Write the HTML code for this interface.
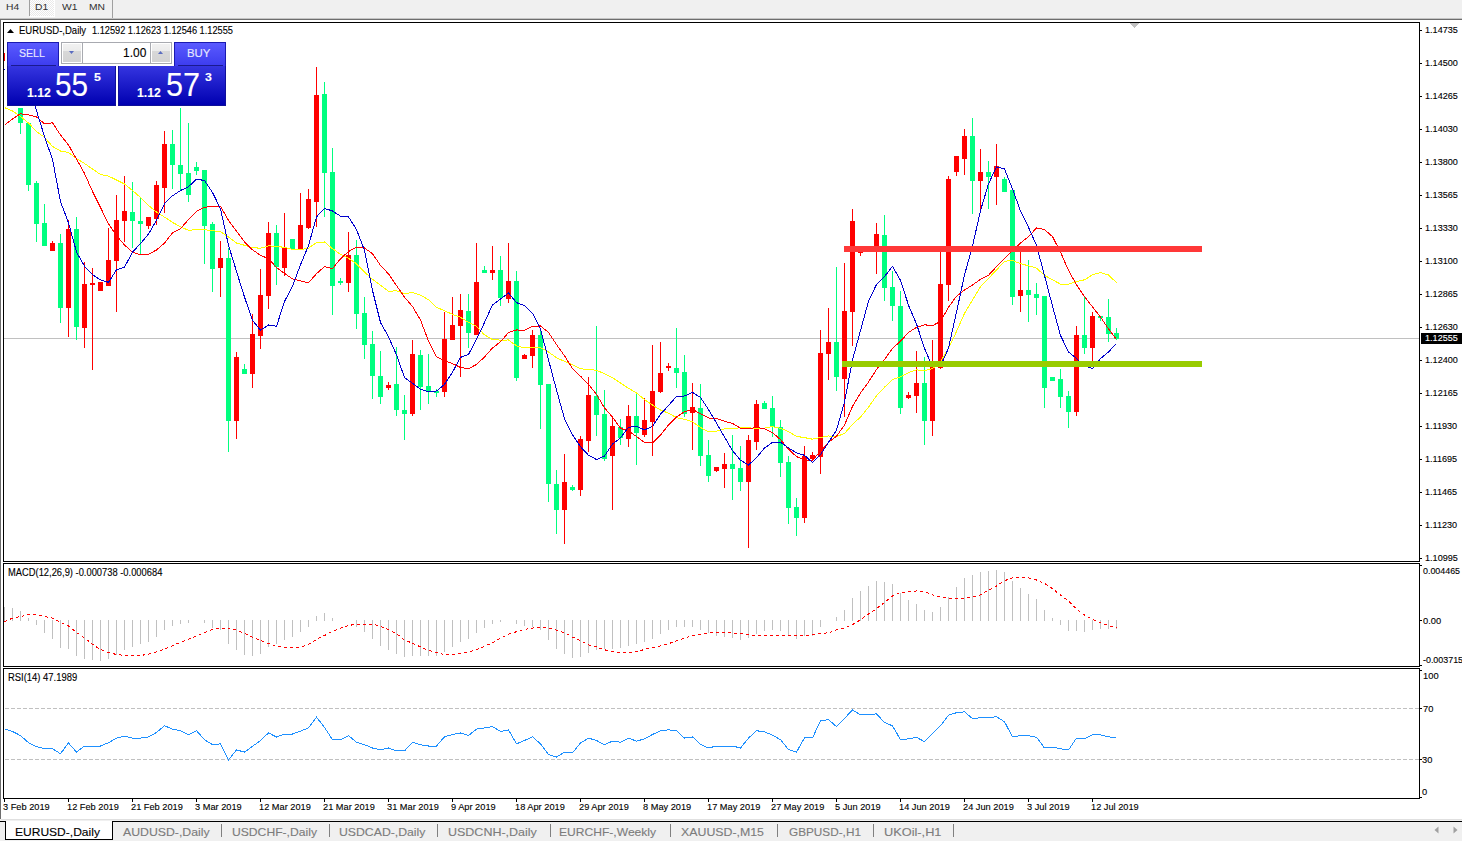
<!DOCTYPE html>
<html><head><meta charset="utf-8"><style>
*{margin:0;padding:0;box-sizing:border-box}
html,body{width:1462px;height:841px;overflow:hidden;background:#f0f0f0;font-family:"Liberation Sans",sans-serif}
#root{position:relative;width:1462px;height:841px;overflow:hidden}
.t{position:absolute;white-space:nowrap;-webkit-text-stroke:0.12px currentColor}
.abs{position:absolute}
</style></head><body><div id="root">
<!-- top toolbar -->
<div class="abs" style="left:0;top:0;width:1462px;height:18px;background:#f0f0f0"></div>
<div class="abs" style="left:30px;top:0;width:25px;height:17px;background-color:#f4f4f4;background-image:repeating-conic-gradient(#ffffff 0 25%,#e9e9e9 0 50%);background-size:2px 2px;border-right:1px solid #fff;border-bottom:1px solid #fff"></div>
<div class="abs" style="left:29px;top:0;width:1px;height:16px;background:#a0a0a0"></div>
<div class="abs" style="left:112px;top:0;width:1px;height:18px;background:#a0a0a0"></div>
<div class="t" style="left:5.83px;top:1.86px;font-size:9.8px;line-height:9.8px;color:#303030;transform:scaleX(1.05);transform-origin:0 0;-webkit-text-stroke:0">H4</div>
<div class="t" style="left:34.93px;top:1.86px;font-size:9.8px;line-height:9.8px;color:#303030;transform:scaleX(1.05);transform-origin:0 0;-webkit-text-stroke:0">D1</div>
<div class="t" style="left:62.03px;top:1.86px;font-size:9.8px;line-height:9.8px;color:#303030;transform:scaleX(1.05);transform-origin:0 0;-webkit-text-stroke:0">W1</div>
<div class="t" style="left:88.73px;top:1.86px;font-size:9.8px;line-height:9.8px;color:#303030;transform:scaleX(1.05);transform-origin:0 0;-webkit-text-stroke:0">MN</div>
<div class="abs" style="left:0;top:18px;width:1462px;height:1px;background:#c4c4c4"></div>
<div class="abs" style="left:0;top:19px;width:1462px;height:1px;background:#6d6d6d"></div>
<div class="abs" style="left:0;top:19px;width:1px;height:800px;background:#6d6d6d"></div>
<div class="abs" style="left:1px;top:20px;width:1461px;height:799px;background:#fff"></div>
<svg class="abs" style="left:0;top:0" width="1462" height="841" shape-rendering="crispEdges">
<defs><clipPath id="cm"><rect x="4" y="23" width="1415" height="538"/></clipPath><clipPath id="cmacd"><rect x="4" y="564" width="1415" height="102"/></clipPath><clipPath id="crsi"><rect x="4" y="669" width="1415" height="129"/></clipPath></defs>
<g clip-path="url(#cm)">
<rect x="4" y="338" width="1415" height="1" fill="#c0c0c0"/>
<rect x="4" y="53" width="1" height="8" fill="#ff0000"/>
<rect x="4" y="53" width="1" height="8" fill="#ff0000"/>
<rect x="20" y="108" width="1" height="26" fill="#00ff7f"/>
<rect x="18" y="108" width="5" height="15" fill="#00ff7f"/>
<rect x="28" y="123" width="1" height="68" fill="#00ff7f"/>
<rect x="26" y="123" width="5" height="62" fill="#00ff7f"/>
<rect x="36" y="181" width="1" height="61" fill="#00ff7f"/>
<rect x="34" y="183" width="5" height="41" fill="#00ff7f"/>
<rect x="44" y="204" width="1" height="42" fill="#00ff7f"/>
<rect x="42" y="223" width="5" height="23" fill="#00ff7f"/>
<rect x="52" y="241" width="1" height="10" fill="#ff0000"/>
<rect x="50" y="243" width="5" height="8" fill="#ff0000"/>
<rect x="60" y="234" width="1" height="89" fill="#00ff7f"/>
<rect x="58" y="243" width="5" height="65" fill="#00ff7f"/>
<rect x="68" y="220" width="1" height="117" fill="#ff0000"/>
<rect x="66" y="229" width="5" height="79" fill="#ff0000"/>
<rect x="76" y="217" width="1" height="123" fill="#00ff7f"/>
<rect x="74" y="229" width="5" height="98" fill="#00ff7f"/>
<rect x="84" y="262" width="1" height="86" fill="#ff0000"/>
<rect x="82" y="284" width="5" height="44" fill="#ff0000"/>
<rect x="92" y="268" width="1" height="102" fill="#ff0000"/>
<rect x="90" y="283" width="5" height="2" fill="#ff0000"/>
<rect x="100" y="282" width="1" height="9" fill="#ff0000"/>
<rect x="98" y="282" width="5" height="9" fill="#ff0000"/>
<rect x="108" y="228" width="1" height="58" fill="#ff0000"/>
<rect x="106" y="260" width="5" height="26" fill="#ff0000"/>
<rect x="116" y="195" width="1" height="117" fill="#ff0000"/>
<rect x="114" y="220" width="5" height="41" fill="#ff0000"/>
<rect x="124" y="176" width="1" height="66" fill="#ff0000"/>
<rect x="122" y="211" width="5" height="10" fill="#ff0000"/>
<rect x="132" y="182" width="1" height="66" fill="#00ff7f"/>
<rect x="130" y="212" width="5" height="9" fill="#00ff7f"/>
<rect x="140" y="198" width="1" height="56" fill="#00ff7f"/>
<rect x="138" y="221" width="5" height="3" fill="#00ff7f"/>
<rect x="148" y="217" width="1" height="12" fill="#ff0000"/>
<rect x="146" y="217" width="5" height="9" fill="#ff0000"/>
<rect x="156" y="181" width="1" height="44" fill="#ff0000"/>
<rect x="154" y="185" width="5" height="34" fill="#ff0000"/>
<rect x="164" y="131" width="1" height="82" fill="#ff0000"/>
<rect x="162" y="144" width="5" height="44" fill="#ff0000"/>
<rect x="172" y="130" width="1" height="59" fill="#00ff7f"/>
<rect x="170" y="144" width="5" height="21" fill="#00ff7f"/>
<rect x="180" y="108" width="1" height="82" fill="#00ff7f"/>
<rect x="178" y="165" width="5" height="9" fill="#00ff7f"/>
<rect x="188" y="123" width="1" height="79" fill="#00ff7f"/>
<rect x="186" y="173" width="5" height="22" fill="#00ff7f"/>
<rect x="196" y="162" width="1" height="13" fill="#00ff7f"/>
<rect x="194" y="167" width="5" height="4" fill="#00ff7f"/>
<rect x="204" y="170" width="1" height="94" fill="#00ff7f"/>
<rect x="202" y="170" width="5" height="56" fill="#00ff7f"/>
<rect x="212" y="222" width="1" height="70" fill="#00ff7f"/>
<rect x="210" y="224" width="5" height="45" fill="#00ff7f"/>
<rect x="220" y="241" width="1" height="56" fill="#ff0000"/>
<rect x="218" y="258" width="5" height="10" fill="#ff0000"/>
<rect x="228" y="248" width="1" height="204" fill="#00ff7f"/>
<rect x="226" y="258" width="5" height="163" fill="#00ff7f"/>
<rect x="236" y="352" width="1" height="87" fill="#ff0000"/>
<rect x="234" y="357" width="5" height="64" fill="#ff0000"/>
<rect x="244" y="364" width="1" height="10" fill="#00ff7f"/>
<rect x="242" y="369" width="5" height="5" fill="#00ff7f"/>
<rect x="252" y="314" width="1" height="74" fill="#ff0000"/>
<rect x="250" y="334" width="5" height="40" fill="#ff0000"/>
<rect x="260" y="269" width="1" height="80" fill="#ff0000"/>
<rect x="258" y="295" width="5" height="41" fill="#ff0000"/>
<rect x="268" y="222" width="1" height="87" fill="#ff0000"/>
<rect x="266" y="233" width="5" height="63" fill="#ff0000"/>
<rect x="276" y="225" width="1" height="60" fill="#00ff7f"/>
<rect x="274" y="233" width="5" height="34" fill="#00ff7f"/>
<rect x="284" y="213" width="1" height="63" fill="#ff0000"/>
<rect x="282" y="248" width="5" height="20" fill="#ff0000"/>
<rect x="292" y="239" width="1" height="10" fill="#00ff7f"/>
<rect x="290" y="239" width="5" height="10" fill="#00ff7f"/>
<rect x="300" y="193" width="1" height="56" fill="#ff0000"/>
<rect x="298" y="225" width="5" height="24" fill="#ff0000"/>
<rect x="308" y="189" width="1" height="40" fill="#ff0000"/>
<rect x="306" y="199" width="5" height="29" fill="#ff0000"/>
<rect x="316" y="67" width="1" height="160" fill="#ff0000"/>
<rect x="314" y="95" width="5" height="107" fill="#ff0000"/>
<rect x="324" y="82" width="1" height="135" fill="#00ff7f"/>
<rect x="322" y="94" width="5" height="79" fill="#00ff7f"/>
<rect x="332" y="148" width="1" height="167" fill="#00ff7f"/>
<rect x="330" y="172" width="5" height="114" fill="#00ff7f"/>
<rect x="340" y="278" width="1" height="7" fill="#00ff7f"/>
<rect x="338" y="281" width="5" height="2" fill="#00ff7f"/>
<rect x="348" y="232" width="1" height="60" fill="#ff0000"/>
<rect x="346" y="255" width="5" height="28" fill="#ff0000"/>
<rect x="356" y="240" width="1" height="89" fill="#00ff7f"/>
<rect x="354" y="255" width="5" height="59" fill="#00ff7f"/>
<rect x="364" y="297" width="1" height="62" fill="#00ff7f"/>
<rect x="362" y="313" width="5" height="32" fill="#00ff7f"/>
<rect x="372" y="331" width="1" height="68" fill="#00ff7f"/>
<rect x="370" y="344" width="5" height="32" fill="#00ff7f"/>
<rect x="380" y="351" width="1" height="53" fill="#00ff7f"/>
<rect x="378" y="376" width="5" height="21" fill="#00ff7f"/>
<rect x="388" y="382" width="1" height="8" fill="#ff0000"/>
<rect x="386" y="385" width="5" height="3" fill="#ff0000"/>
<rect x="396" y="347" width="1" height="69" fill="#00ff7f"/>
<rect x="394" y="384" width="5" height="26" fill="#00ff7f"/>
<rect x="404" y="395" width="1" height="45" fill="#00ff7f"/>
<rect x="402" y="410" width="5" height="4" fill="#00ff7f"/>
<rect x="412" y="340" width="1" height="76" fill="#ff0000"/>
<rect x="410" y="354" width="5" height="60" fill="#ff0000"/>
<rect x="420" y="350" width="1" height="60" fill="#00ff7f"/>
<rect x="418" y="355" width="5" height="32" fill="#00ff7f"/>
<rect x="428" y="354" width="1" height="50" fill="#00ff7f"/>
<rect x="426" y="386" width="5" height="6" fill="#00ff7f"/>
<rect x="436" y="389" width="1" height="8" fill="#00ff7f"/>
<rect x="434" y="391" width="5" height="2" fill="#00ff7f"/>
<rect x="444" y="312" width="1" height="85" fill="#ff0000"/>
<rect x="442" y="339" width="5" height="53" fill="#ff0000"/>
<rect x="452" y="297" width="1" height="43" fill="#ff0000"/>
<rect x="450" y="325" width="5" height="15" fill="#ff0000"/>
<rect x="460" y="294" width="1" height="83" fill="#ff0000"/>
<rect x="458" y="310" width="5" height="16" fill="#ff0000"/>
<rect x="468" y="294" width="1" height="54" fill="#00ff7f"/>
<rect x="466" y="311" width="5" height="22" fill="#00ff7f"/>
<rect x="476" y="243" width="1" height="92" fill="#ff0000"/>
<rect x="474" y="282" width="5" height="53" fill="#ff0000"/>
<rect x="484" y="266" width="1" height="7" fill="#00ff7f"/>
<rect x="482" y="270" width="5" height="3" fill="#00ff7f"/>
<rect x="492" y="246" width="1" height="34" fill="#ff0000"/>
<rect x="490" y="270" width="5" height="3" fill="#ff0000"/>
<rect x="500" y="256" width="1" height="50" fill="#00ff7f"/>
<rect x="498" y="270" width="5" height="28" fill="#00ff7f"/>
<rect x="508" y="243" width="1" height="60" fill="#ff0000"/>
<rect x="506" y="281" width="5" height="18" fill="#ff0000"/>
<rect x="516" y="271" width="1" height="110" fill="#00ff7f"/>
<rect x="514" y="281" width="5" height="97" fill="#00ff7f"/>
<rect x="524" y="354" width="1" height="5" fill="#ff0000"/>
<rect x="522" y="355" width="5" height="4" fill="#ff0000"/>
<rect x="532" y="330" width="1" height="38" fill="#ff0000"/>
<rect x="530" y="335" width="5" height="21" fill="#ff0000"/>
<rect x="540" y="330" width="1" height="99" fill="#00ff7f"/>
<rect x="538" y="335" width="5" height="50" fill="#00ff7f"/>
<rect x="548" y="384" width="1" height="118" fill="#00ff7f"/>
<rect x="546" y="384" width="5" height="100" fill="#00ff7f"/>
<rect x="556" y="470" width="1" height="64" fill="#00ff7f"/>
<rect x="554" y="484" width="5" height="26" fill="#00ff7f"/>
<rect x="564" y="454" width="1" height="90" fill="#ff0000"/>
<rect x="562" y="482" width="5" height="28" fill="#ff0000"/>
<rect x="572" y="485" width="1" height="6" fill="#00ff7f"/>
<rect x="570" y="487" width="5" height="3" fill="#00ff7f"/>
<rect x="580" y="436" width="1" height="60" fill="#ff0000"/>
<rect x="578" y="439" width="5" height="51" fill="#ff0000"/>
<rect x="588" y="377" width="1" height="75" fill="#ff0000"/>
<rect x="586" y="395" width="5" height="46" fill="#ff0000"/>
<rect x="596" y="326" width="1" height="110" fill="#00ff7f"/>
<rect x="594" y="396" width="5" height="19" fill="#00ff7f"/>
<rect x="604" y="390" width="1" height="71" fill="#00ff7f"/>
<rect x="602" y="414" width="5" height="45" fill="#00ff7f"/>
<rect x="612" y="417" width="1" height="93" fill="#ff0000"/>
<rect x="610" y="426" width="5" height="30" fill="#ff0000"/>
<rect x="620" y="419" width="1" height="26" fill="#00ff7f"/>
<rect x="618" y="427" width="5" height="11" fill="#00ff7f"/>
<rect x="628" y="405" width="1" height="42" fill="#ff0000"/>
<rect x="626" y="416" width="5" height="23" fill="#ff0000"/>
<rect x="636" y="393" width="1" height="72" fill="#00ff7f"/>
<rect x="634" y="416" width="5" height="17" fill="#00ff7f"/>
<rect x="644" y="398" width="1" height="39" fill="#ff0000"/>
<rect x="642" y="420" width="5" height="15" fill="#ff0000"/>
<rect x="652" y="345" width="1" height="111" fill="#ff0000"/>
<rect x="650" y="391" width="5" height="31" fill="#ff0000"/>
<rect x="660" y="342" width="1" height="51" fill="#ff0000"/>
<rect x="658" y="373" width="5" height="19" fill="#ff0000"/>
<rect x="668" y="363" width="1" height="8" fill="#ff0000"/>
<rect x="666" y="366" width="5" height="2" fill="#ff0000"/>
<rect x="676" y="328" width="1" height="60" fill="#00ff7f"/>
<rect x="674" y="368" width="5" height="5" fill="#00ff7f"/>
<rect x="684" y="355" width="1" height="62" fill="#00ff7f"/>
<rect x="682" y="372" width="5" height="42" fill="#00ff7f"/>
<rect x="692" y="383" width="1" height="67" fill="#ff0000"/>
<rect x="690" y="407" width="5" height="6" fill="#ff0000"/>
<rect x="700" y="384" width="1" height="82" fill="#00ff7f"/>
<rect x="698" y="408" width="5" height="48" fill="#00ff7f"/>
<rect x="708" y="440" width="1" height="42" fill="#00ff7f"/>
<rect x="706" y="455" width="5" height="21" fill="#00ff7f"/>
<rect x="716" y="467" width="1" height="5" fill="#ff0000"/>
<rect x="714" y="467" width="5" height="4" fill="#ff0000"/>
<rect x="724" y="453" width="1" height="35" fill="#ff0000"/>
<rect x="722" y="464" width="5" height="5" fill="#ff0000"/>
<rect x="732" y="435" width="1" height="65" fill="#00ff7f"/>
<rect x="730" y="464" width="5" height="5" fill="#00ff7f"/>
<rect x="740" y="446" width="1" height="45" fill="#00ff7f"/>
<rect x="738" y="468" width="5" height="14" fill="#00ff7f"/>
<rect x="748" y="435" width="1" height="113" fill="#ff0000"/>
<rect x="746" y="440" width="5" height="42" fill="#ff0000"/>
<rect x="756" y="400" width="1" height="50" fill="#ff0000"/>
<rect x="754" y="404" width="5" height="38" fill="#ff0000"/>
<rect x="764" y="401" width="1" height="8" fill="#00ff7f"/>
<rect x="762" y="403" width="5" height="6" fill="#00ff7f"/>
<rect x="772" y="396" width="1" height="41" fill="#00ff7f"/>
<rect x="770" y="408" width="5" height="19" fill="#00ff7f"/>
<rect x="780" y="420" width="1" height="57" fill="#00ff7f"/>
<rect x="778" y="427" width="5" height="36" fill="#00ff7f"/>
<rect x="788" y="456" width="1" height="68" fill="#00ff7f"/>
<rect x="786" y="462" width="5" height="46" fill="#00ff7f"/>
<rect x="796" y="498" width="1" height="38" fill="#00ff7f"/>
<rect x="794" y="507" width="5" height="11" fill="#00ff7f"/>
<rect x="804" y="446" width="1" height="77" fill="#ff0000"/>
<rect x="802" y="456" width="5" height="62" fill="#ff0000"/>
<rect x="812" y="452" width="1" height="8" fill="#ff0000"/>
<rect x="810" y="455" width="5" height="4" fill="#ff0000"/>
<rect x="820" y="330" width="1" height="144" fill="#ff0000"/>
<rect x="818" y="353" width="5" height="104" fill="#ff0000"/>
<rect x="828" y="308" width="1" height="72" fill="#ff0000"/>
<rect x="826" y="342" width="5" height="12" fill="#ff0000"/>
<rect x="836" y="267" width="1" height="124" fill="#00ff7f"/>
<rect x="834" y="342" width="5" height="35" fill="#00ff7f"/>
<rect x="844" y="263" width="1" height="154" fill="#ff0000"/>
<rect x="842" y="311" width="5" height="68" fill="#ff0000"/>
<rect x="852" y="209" width="1" height="137" fill="#ff0000"/>
<rect x="850" y="221" width="5" height="91" fill="#ff0000"/>
<rect x="860" y="246" width="1" height="10" fill="#ff0000"/>
<rect x="858" y="252" width="5" height="1" fill="#ff0000"/>
<rect x="868" y="247" width="1" height="4" fill="#00ff7f"/>
<rect x="866" y="249" width="5" height="1" fill="#00ff7f"/>
<rect x="876" y="223" width="1" height="51" fill="#ff0000"/>
<rect x="874" y="234" width="5" height="17" fill="#ff0000"/>
<rect x="884" y="215" width="1" height="86" fill="#00ff7f"/>
<rect x="882" y="235" width="5" height="53" fill="#00ff7f"/>
<rect x="892" y="271" width="1" height="50" fill="#00ff7f"/>
<rect x="890" y="287" width="5" height="19" fill="#00ff7f"/>
<rect x="900" y="291" width="1" height="123" fill="#00ff7f"/>
<rect x="898" y="306" width="5" height="102" fill="#00ff7f"/>
<rect x="908" y="392" width="1" height="7" fill="#ff0000"/>
<rect x="906" y="395" width="5" height="3" fill="#ff0000"/>
<rect x="916" y="351" width="1" height="62" fill="#ff0000"/>
<rect x="914" y="383" width="5" height="13" fill="#ff0000"/>
<rect x="924" y="357" width="1" height="88" fill="#00ff7f"/>
<rect x="922" y="383" width="5" height="38" fill="#00ff7f"/>
<rect x="932" y="340" width="1" height="96" fill="#ff0000"/>
<rect x="930" y="364" width="5" height="57" fill="#ff0000"/>
<rect x="940" y="251" width="1" height="118" fill="#ff0000"/>
<rect x="938" y="284" width="5" height="84" fill="#ff0000"/>
<rect x="948" y="176" width="1" height="125" fill="#ff0000"/>
<rect x="946" y="179" width="5" height="106" fill="#ff0000"/>
<rect x="956" y="156" width="1" height="20" fill="#ff0000"/>
<rect x="954" y="156" width="5" height="16" fill="#ff0000"/>
<rect x="964" y="129" width="1" height="46" fill="#ff0000"/>
<rect x="962" y="136" width="5" height="23" fill="#ff0000"/>
<rect x="972" y="118" width="1" height="96" fill="#00ff7f"/>
<rect x="970" y="136" width="5" height="45" fill="#00ff7f"/>
<rect x="980" y="149" width="1" height="60" fill="#ff0000"/>
<rect x="978" y="172" width="5" height="9" fill="#ff0000"/>
<rect x="988" y="161" width="1" height="48" fill="#00ff7f"/>
<rect x="986" y="172" width="5" height="5" fill="#00ff7f"/>
<rect x="996" y="144" width="1" height="61" fill="#ff0000"/>
<rect x="994" y="166" width="5" height="11" fill="#ff0000"/>
<rect x="1004" y="177" width="1" height="15" fill="#00ff7f"/>
<rect x="1002" y="179" width="5" height="13" fill="#00ff7f"/>
<rect x="1012" y="190" width="1" height="115" fill="#00ff7f"/>
<rect x="1010" y="190" width="5" height="107" fill="#00ff7f"/>
<rect x="1020" y="251" width="1" height="61" fill="#ff0000"/>
<rect x="1018" y="290" width="5" height="6" fill="#ff0000"/>
<rect x="1028" y="260" width="1" height="62" fill="#00ff7f"/>
<rect x="1026" y="290" width="5" height="5" fill="#00ff7f"/>
<rect x="1036" y="283" width="1" height="32" fill="#00ff7f"/>
<rect x="1034" y="294" width="5" height="4" fill="#00ff7f"/>
<rect x="1044" y="296" width="1" height="112" fill="#00ff7f"/>
<rect x="1042" y="296" width="5" height="92" fill="#00ff7f"/>
<rect x="1052" y="377" width="1" height="4" fill="#00ff7f"/>
<rect x="1050" y="377" width="5" height="4" fill="#00ff7f"/>
<rect x="1060" y="369" width="1" height="39" fill="#00ff7f"/>
<rect x="1058" y="379" width="5" height="18" fill="#00ff7f"/>
<rect x="1068" y="391" width="1" height="37" fill="#00ff7f"/>
<rect x="1066" y="396" width="5" height="16" fill="#00ff7f"/>
<rect x="1076" y="326" width="1" height="90" fill="#ff0000"/>
<rect x="1074" y="335" width="5" height="77" fill="#ff0000"/>
<rect x="1084" y="296" width="1" height="58" fill="#00ff7f"/>
<rect x="1082" y="335" width="5" height="13" fill="#00ff7f"/>
<rect x="1092" y="312" width="1" height="55" fill="#ff0000"/>
<rect x="1090" y="316" width="5" height="32" fill="#ff0000"/>
<rect x="1100" y="316" width="1" height="5" fill="#00ff7f"/>
<rect x="1098" y="316" width="5" height="2" fill="#00ff7f"/>
<rect x="1108" y="299" width="1" height="43" fill="#00ff7f"/>
<rect x="1106" y="317" width="5" height="17" fill="#00ff7f"/>
<rect x="1116" y="328" width="1" height="12" fill="#00ff7f"/>
<rect x="1114" y="333" width="5" height="6" fill="#00ff7f"/>
<polyline points="4.5,107.6 12.5,111.0 20.5,116.5 28.5,123.0 36.5,131.5 44.5,137.3 52.5,146.5 60.5,151.0 68.5,152.5 76.5,158.5 84.5,163.5 92.5,169.0 100.5,174.5 108.5,176.1 116.5,180.0 124.5,184.0 132.5,190.5 140.5,197.5 148.5,205.5 156.5,212.0 164.5,217.1 172.5,222.4 180.5,226.8 188.5,230.3 196.5,229.6 204.5,229.7 212.5,230.8 220.5,231.6 228.5,237.0 236.5,243.0 244.5,245.3 252.5,247.7 260.5,248.2 268.5,245.9 276.5,246.2 284.5,247.5 292.5,249.4 300.5,249.5 308.5,248.3 316.5,242.5 324.5,242.0 332.5,248.7 340.5,254.3 348.5,258.2 356.5,263.8 364.5,272.1 372.5,279.2 380.5,285.3 388.5,291.3 396.5,290.8 404.5,293.5 412.5,292.6 420.5,295.1 428.5,299.7 436.5,307.3 444.5,310.7 452.5,314.4 460.5,317.3 468.5,322.4 476.5,326.4 484.5,334.9 492.5,339.5 500.5,340.1 508.5,340.0 516.5,345.8 524.5,347.8 532.5,347.3 540.5,347.8 548.5,351.9 556.5,357.8 564.5,361.3 572.5,364.9 580.5,368.9 588.5,369.3 596.5,370.4 604.5,373.6 612.5,377.7 620.5,383.1 628.5,388.2 636.5,392.9 644.5,399.5 652.5,405.1 660.5,410.0 668.5,413.2 676.5,417.6 684.5,419.3 692.5,421.8 700.5,427.5 708.5,431.9 716.5,431.1 724.5,428.9 732.5,428.2 740.5,427.9 748.5,427.9 756.5,428.3 764.5,428.1 772.5,426.6 780.5,428.3 788.5,431.6 796.5,436.4 804.5,437.6 812.5,439.2 820.5,437.4 828.5,436.0 836.5,436.5 844.5,433.5 852.5,424.4 860.5,417.0 868.5,407.2 876.5,395.7 884.5,387.2 892.5,379.6 900.5,376.8 908.5,372.6 916.5,369.9 924.5,370.7 932.5,368.6 940.5,361.8 948.5,348.3 956.5,331.5 964.5,313.3 972.5,300.2 980.5,286.7 988.5,278.4 996.5,270.0 1004.5,261.2 1012.5,260.5 1020.5,263.7 1028.5,265.8 1036.5,268.1 1044.5,275.4 1052.5,279.8 1060.5,284.1 1068.5,284.3 1076.5,281.5 1084.5,279.8 1092.5,274.8 1100.5,272.6 1108.5,275.0 1116.5,282.6" fill="none" stroke="#ffff00" stroke-width="1"/>
<polyline points="4.5,125.2 12.5,119.0 20.5,113.8 28.5,114.8 36.5,116.9 44.5,123.8 52.5,122.8 60.5,135.0 68.5,145.0 76.5,159.0 84.5,173.5 92.5,191.5 100.5,207.5 108.5,223.8 116.5,235.7 124.5,245.0 132.5,252.1 140.5,254.8 148.5,254.3 156.5,250.0 164.5,243.0 172.5,232.8 180.5,228.8 188.5,219.4 196.5,211.3 204.5,207.3 212.5,206.3 220.5,206.2 228.5,220.5 236.5,231.0 244.5,241.9 252.5,249.8 260.5,255.3 268.5,258.7 276.5,267.5 284.5,273.4 292.5,278.8 300.5,280.9 308.5,282.9 316.5,273.6 324.5,266.7 332.5,268.6 340.5,258.8 348.5,251.5 356.5,247.2 364.5,248.0 372.5,253.7 380.5,265.4 388.5,273.9 396.5,285.5 404.5,297.2 412.5,306.5 420.5,319.9 428.5,341.1 436.5,356.8 444.5,360.6 452.5,363.6 460.5,367.5 468.5,368.8 476.5,364.4 484.5,357.0 492.5,348.0 500.5,341.8 508.5,332.5 516.5,330.0 524.5,330.1 532.5,326.4 540.5,325.9 548.5,332.4 556.5,344.6 564.5,355.8 572.5,368.6 580.5,376.2 588.5,384.3 596.5,394.4 604.5,407.9 612.5,417.1 620.5,428.3 628.5,431.0 636.5,436.5 644.5,442.6 652.5,443.0 660.5,435.1 668.5,424.9 676.5,417.1 684.5,411.7 692.5,409.4 700.5,413.7 708.5,418.0 716.5,418.6 724.5,421.3 732.5,423.4 740.5,428.2 748.5,428.7 756.5,427.5 764.5,428.8 772.5,432.7 780.5,439.6 788.5,449.2 796.5,456.6 804.5,460.1 812.5,460.1 820.5,451.3 828.5,442.4 836.5,436.2 844.5,425.0 852.5,406.4 860.5,392.9 868.5,382.0 876.5,369.5 884.5,359.5 892.5,348.3 900.5,341.2 908.5,332.5 916.5,327.3 924.5,324.8 932.5,325.6 940.5,321.4 948.5,307.3 956.5,296.2 964.5,290.1 972.5,285.0 980.5,279.4 988.5,275.3 996.5,266.7 1004.5,258.5 1012.5,250.5 1020.5,243.0 1028.5,236.7 1036.5,227.9 1044.5,229.6 1052.5,236.6 1060.5,252.1 1068.5,270.4 1076.5,284.7 1084.5,296.6 1092.5,306.9 1100.5,317.0 1108.5,329.0 1116.5,339.5" fill="none" stroke="#ff0000" stroke-width="1"/>
<polyline points="4.5,69.5 12.5,70.5 20.5,74.5 28.5,82.5 36.5,110.7 44.5,136.5 52.5,159.5 60.5,201.6 68.5,222.8 76.5,252.0 84.5,266.2 92.5,274.6 100.5,279.9 108.5,282.3 116.5,269.8 124.5,267.2 132.5,252.1 140.5,243.5 148.5,234.1 156.5,220.2 164.5,203.7 172.5,195.8 180.5,190.5 188.5,186.7 196.5,179.2 204.5,180.5 212.5,192.5 220.5,208.7 228.5,245.3 236.5,271.4 244.5,297.0 252.5,320.3 260.5,330.2 268.5,325.0 276.5,326.3 284.5,301.5 292.5,286.1 300.5,264.8 308.5,245.5 316.5,216.9 324.5,208.4 332.5,211.0 340.5,216.1 348.5,216.9 356.5,229.6 364.5,250.4 372.5,290.5 380.5,322.5 388.5,336.7 396.5,354.9 404.5,377.5 412.5,383.3 420.5,389.3 428.5,391.6 436.5,391.0 444.5,384.4 452.5,372.2 460.5,357.4 468.5,354.4 476.5,339.4 484.5,322.5 492.5,304.9 500.5,299.1 508.5,292.9 516.5,302.6 524.5,305.7 532.5,313.3 540.5,329.2 548.5,359.8 556.5,390.0 564.5,418.7 572.5,434.7 580.5,446.7 588.5,455.3 596.5,459.5 604.5,456.0 612.5,444.1 620.5,437.8 628.5,427.3 636.5,426.4 644.5,429.9 652.5,426.5 660.5,414.2 668.5,405.6 676.5,396.3 684.5,396.0 692.5,392.4 700.5,397.5 708.5,409.6 716.5,423.0 724.5,437.0 732.5,450.6 740.5,460.3 748.5,465.0 756.5,457.6 764.5,448.1 772.5,442.4 780.5,442.2 788.5,447.9 796.5,452.9 804.5,455.3 812.5,462.6 820.5,454.6 828.5,442.4 836.5,430.2 844.5,402.1 852.5,359.8 860.5,330.6 868.5,301.3 876.5,284.4 884.5,276.6 892.5,266.4 900.5,280.3 908.5,305.2 916.5,323.9 924.5,348.3 932.5,366.9 940.5,366.3 948.5,348.1 956.5,312.1 964.5,275.0 972.5,246.1 980.5,210.6 988.5,183.8 996.5,167.0 1004.5,168.9 1012.5,189.0 1020.5,211.0 1028.5,227.3 1036.5,245.3 1044.5,275.5 1052.5,306.1 1060.5,335.4 1068.5,351.9 1076.5,358.4 1084.5,366.0 1092.5,368.5 1100.5,358.6 1108.5,351.9 1116.5,343.6" fill="none" stroke="#0000cd" stroke-width="1"/>
<rect x="844" y="246" width="358" height="6" fill="#ff3838"/>
<rect x="842" y="361" width="360" height="6" fill="#99cc00"/>
</g><g clip-path="url(#cmacd)">
<rect x="4" y="607" width="1" height="14" fill="#c0c0c0"/>
<rect x="12" y="608" width="1" height="13" fill="#c0c0c0"/>
<rect x="20" y="611" width="1" height="10" fill="#c0c0c0"/>
<rect x="28" y="618" width="1" height="3" fill="#c0c0c0"/>
<rect x="36" y="620" width="1" height="5" fill="#c0c0c0"/>
<rect x="44" y="620" width="1" height="13" fill="#c0c0c0"/>
<rect x="52" y="620" width="1" height="19" fill="#c0c0c0"/>
<rect x="60" y="620" width="1" height="28" fill="#c0c0c0"/>
<rect x="68" y="620" width="1" height="29" fill="#c0c0c0"/>
<rect x="76" y="620" width="1" height="36" fill="#c0c0c0"/>
<rect x="84" y="620" width="1" height="39" fill="#c0c0c0"/>
<rect x="92" y="620" width="1" height="40" fill="#c0c0c0"/>
<rect x="100" y="620" width="1" height="41" fill="#c0c0c0"/>
<rect x="108" y="620" width="1" height="39" fill="#c0c0c0"/>
<rect x="116" y="620" width="1" height="35" fill="#c0c0c0"/>
<rect x="124" y="620" width="1" height="30" fill="#c0c0c0"/>
<rect x="132" y="620" width="1" height="27" fill="#c0c0c0"/>
<rect x="140" y="620" width="1" height="24" fill="#c0c0c0"/>
<rect x="148" y="620" width="1" height="22" fill="#c0c0c0"/>
<rect x="156" y="620" width="1" height="17" fill="#c0c0c0"/>
<rect x="164" y="620" width="1" height="10" fill="#c0c0c0"/>
<rect x="172" y="620" width="1" height="6" fill="#c0c0c0"/>
<rect x="180" y="620" width="1" height="4" fill="#c0c0c0"/>
<rect x="188" y="620" width="1" height="3" fill="#c0c0c0"/>
<rect x="204" y="620" width="1" height="3" fill="#c0c0c0"/>
<rect x="212" y="620" width="1" height="8" fill="#c0c0c0"/>
<rect x="220" y="620" width="1" height="10" fill="#c0c0c0"/>
<rect x="228" y="620" width="1" height="24" fill="#c0c0c0"/>
<rect x="236" y="620" width="1" height="30" fill="#c0c0c0"/>
<rect x="244" y="620" width="1" height="35" fill="#c0c0c0"/>
<rect x="252" y="620" width="1" height="36" fill="#c0c0c0"/>
<rect x="260" y="620" width="1" height="34" fill="#c0c0c0"/>
<rect x="268" y="620" width="1" height="27" fill="#c0c0c0"/>
<rect x="276" y="620" width="1" height="24" fill="#c0c0c0"/>
<rect x="284" y="620" width="1" height="20" fill="#c0c0c0"/>
<rect x="292" y="620" width="1" height="17" fill="#c0c0c0"/>
<rect x="300" y="620" width="1" height="12" fill="#c0c0c0"/>
<rect x="308" y="620" width="1" height="7" fill="#c0c0c0"/>
<rect x="316" y="616" width="1" height="5" fill="#c0c0c0"/>
<rect x="324" y="613" width="1" height="8" fill="#c0c0c0"/>
<rect x="332" y="618" width="1" height="3" fill="#c0c0c0"/>
<rect x="356" y="620" width="1" height="7" fill="#c0c0c0"/>
<rect x="364" y="620" width="1" height="12" fill="#c0c0c0"/>
<rect x="372" y="620" width="1" height="19" fill="#c0c0c0"/>
<rect x="380" y="620" width="1" height="26" fill="#c0c0c0"/>
<rect x="388" y="620" width="1" height="30" fill="#c0c0c0"/>
<rect x="396" y="620" width="1" height="34" fill="#c0c0c0"/>
<rect x="404" y="620" width="1" height="37" fill="#c0c0c0"/>
<rect x="412" y="620" width="1" height="36" fill="#c0c0c0"/>
<rect x="420" y="620" width="1" height="36" fill="#c0c0c0"/>
<rect x="428" y="620" width="1" height="36" fill="#c0c0c0"/>
<rect x="436" y="620" width="1" height="36" fill="#c0c0c0"/>
<rect x="444" y="620" width="1" height="32" fill="#c0c0c0"/>
<rect x="452" y="620" width="1" height="27" fill="#c0c0c0"/>
<rect x="460" y="620" width="1" height="22" fill="#c0c0c0"/>
<rect x="468" y="620" width="1" height="19" fill="#c0c0c0"/>
<rect x="476" y="620" width="1" height="13" fill="#c0c0c0"/>
<rect x="484" y="620" width="1" height="8" fill="#c0c0c0"/>
<rect x="492" y="620" width="1" height="4" fill="#c0c0c0"/>
<rect x="500" y="620" width="1" height="2" fill="#c0c0c0"/>
<rect x="516" y="620" width="1" height="4" fill="#c0c0c0"/>
<rect x="524" y="620" width="1" height="6" fill="#c0c0c0"/>
<rect x="532" y="620" width="1" height="7" fill="#c0c0c0"/>
<rect x="540" y="620" width="1" height="10" fill="#c0c0c0"/>
<rect x="548" y="620" width="1" height="20" fill="#c0c0c0"/>
<rect x="556" y="620" width="1" height="29" fill="#c0c0c0"/>
<rect x="564" y="620" width="1" height="34" fill="#c0c0c0"/>
<rect x="572" y="620" width="1" height="38" fill="#c0c0c0"/>
<rect x="580" y="620" width="1" height="37" fill="#c0c0c0"/>
<rect x="588" y="620" width="1" height="33" fill="#c0c0c0"/>
<rect x="596" y="620" width="1" height="30" fill="#c0c0c0"/>
<rect x="604" y="620" width="1" height="29" fill="#c0c0c0"/>
<rect x="612" y="620" width="1" height="29" fill="#c0c0c0"/>
<rect x="620" y="620" width="1" height="28" fill="#c0c0c0"/>
<rect x="628" y="620" width="1" height="26" fill="#c0c0c0"/>
<rect x="636" y="620" width="1" height="24" fill="#c0c0c0"/>
<rect x="644" y="620" width="1" height="22" fill="#c0c0c0"/>
<rect x="652" y="620" width="1" height="19" fill="#c0c0c0"/>
<rect x="660" y="620" width="1" height="14" fill="#c0c0c0"/>
<rect x="668" y="620" width="1" height="10" fill="#c0c0c0"/>
<rect x="676" y="620" width="1" height="7" fill="#c0c0c0"/>
<rect x="684" y="620" width="1" height="7" fill="#c0c0c0"/>
<rect x="692" y="620" width="1" height="7" fill="#c0c0c0"/>
<rect x="700" y="620" width="1" height="10" fill="#c0c0c0"/>
<rect x="708" y="620" width="1" height="13" fill="#c0c0c0"/>
<rect x="716" y="620" width="1" height="16" fill="#c0c0c0"/>
<rect x="724" y="620" width="1" height="17" fill="#c0c0c0"/>
<rect x="732" y="620" width="1" height="18" fill="#c0c0c0"/>
<rect x="740" y="620" width="1" height="20" fill="#c0c0c0"/>
<rect x="748" y="620" width="1" height="18" fill="#c0c0c0"/>
<rect x="756" y="620" width="1" height="14" fill="#c0c0c0"/>
<rect x="764" y="620" width="1" height="11" fill="#c0c0c0"/>
<rect x="772" y="620" width="1" height="10" fill="#c0c0c0"/>
<rect x="780" y="620" width="1" height="11" fill="#c0c0c0"/>
<rect x="788" y="620" width="1" height="15" fill="#c0c0c0"/>
<rect x="796" y="620" width="1" height="19" fill="#c0c0c0"/>
<rect x="804" y="620" width="1" height="16" fill="#c0c0c0"/>
<rect x="812" y="620" width="1" height="16" fill="#c0c0c0"/>
<rect x="820" y="620" width="1" height="7" fill="#c0c0c0"/>
<rect x="836" y="617" width="1" height="4" fill="#c0c0c0"/>
<rect x="844" y="610" width="1" height="11" fill="#c0c0c0"/>
<rect x="852" y="598" width="1" height="23" fill="#c0c0c0"/>
<rect x="860" y="591" width="1" height="30" fill="#c0c0c0"/>
<rect x="868" y="586" width="1" height="35" fill="#c0c0c0"/>
<rect x="876" y="581" width="1" height="40" fill="#c0c0c0"/>
<rect x="884" y="582" width="1" height="39" fill="#c0c0c0"/>
<rect x="892" y="584" width="1" height="37" fill="#c0c0c0"/>
<rect x="900" y="593" width="1" height="28" fill="#c0c0c0"/>
<rect x="908" y="600" width="1" height="21" fill="#c0c0c0"/>
<rect x="916" y="604" width="1" height="17" fill="#c0c0c0"/>
<rect x="924" y="610" width="1" height="11" fill="#c0c0c0"/>
<rect x="932" y="612" width="1" height="9" fill="#c0c0c0"/>
<rect x="940" y="607" width="1" height="14" fill="#c0c0c0"/>
<rect x="948" y="597" width="1" height="24" fill="#c0c0c0"/>
<rect x="956" y="587" width="1" height="34" fill="#c0c0c0"/>
<rect x="964" y="578" width="1" height="43" fill="#c0c0c0"/>
<rect x="972" y="575" width="1" height="46" fill="#c0c0c0"/>
<rect x="980" y="572" width="1" height="49" fill="#c0c0c0"/>
<rect x="988" y="571" width="1" height="50" fill="#c0c0c0"/>
<rect x="996" y="570" width="1" height="51" fill="#c0c0c0"/>
<rect x="1004" y="572" width="1" height="49" fill="#c0c0c0"/>
<rect x="1012" y="581" width="1" height="40" fill="#c0c0c0"/>
<rect x="1020" y="588" width="1" height="33" fill="#c0c0c0"/>
<rect x="1028" y="594" width="1" height="27" fill="#c0c0c0"/>
<rect x="1036" y="599" width="1" height="22" fill="#c0c0c0"/>
<rect x="1044" y="610" width="1" height="11" fill="#c0c0c0"/>
<rect x="1052" y="618" width="1" height="3" fill="#c0c0c0"/>
<rect x="1060" y="620" width="1" height="5" fill="#c0c0c0"/>
<rect x="1068" y="620" width="1" height="11" fill="#c0c0c0"/>
<rect x="1076" y="620" width="1" height="11" fill="#c0c0c0"/>
<rect x="1084" y="620" width="1" height="12" fill="#c0c0c0"/>
<rect x="1092" y="620" width="1" height="10" fill="#c0c0c0"/>
<rect x="1100" y="620" width="1" height="9" fill="#c0c0c0"/>
<rect x="1108" y="620" width="1" height="9" fill="#c0c0c0"/>
<rect x="1116" y="620" width="1" height="9" fill="#c0c0c0"/>
<polyline points="4.5,621.7 12.5,618.1 20.5,616.5 28.5,614.8 36.5,614.8 44.5,616.5 52.5,618.1 60.5,622.2 68.5,626.0 76.5,632.5 84.5,637.8 92.5,644.4 100.5,649.6 108.5,652.5 116.5,654.5 124.5,655.5 132.5,655.9 140.5,655.5 148.5,654.2 156.5,651.8 164.5,649.3 172.5,645.7 180.5,642.4 188.5,639.1 196.5,636.2 204.5,632.5 212.5,629.3 220.5,628.0 228.5,628.8 236.5,630.1 244.5,633.4 252.5,637.1 260.5,640.4 268.5,643.7 276.5,646.2 284.5,647.5 292.5,647.8 300.5,647.0 308.5,644.5 316.5,639.3 324.5,635.5 332.5,631.4 340.5,628.1 348.5,625.6 356.5,624.0 364.5,624.0 372.5,624.0 380.5,626.5 388.5,629.7 396.5,633.8 404.5,639.9 412.5,643.2 420.5,647.0 428.5,650.3 436.5,652.7 444.5,654.7 452.5,654.4 460.5,653.5 468.5,651.9 476.5,649.8 484.5,646.2 492.5,642.9 500.5,638.3 508.5,634.3 516.5,631.7 524.5,629.4 532.5,628.1 540.5,627.3 548.5,628.1 556.5,630.1 564.5,632.7 572.5,637.1 580.5,640.9 588.5,644.8 596.5,647.0 604.5,649.8 612.5,651.4 620.5,652.7 628.5,652.7 636.5,651.9 644.5,649.4 652.5,647.8 660.5,645.8 668.5,643.7 676.5,640.9 684.5,638.0 692.5,635.5 700.5,634.2 708.5,632.9 716.5,632.9 724.5,632.1 732.5,632.9 740.5,633.7 748.5,634.8 756.5,635.8 764.5,635.8 772.5,635.8 780.5,635.8 788.5,635.8 796.5,635.8 804.5,635.8 812.5,634.8 820.5,633.2 828.5,632.9 836.5,629.9 844.5,628.0 852.5,624.7 860.5,619.7 868.5,614.0 876.5,608.6 884.5,602.5 892.5,595.9 900.5,592.7 908.5,591.8 916.5,591.0 924.5,591.8 932.5,594.8 940.5,596.8 948.5,598.7 956.5,598.7 964.5,598.7 972.5,596.8 980.5,594.8 988.5,590.2 996.5,586.1 1004.5,580.7 1012.5,577.9 1020.5,577.1 1028.5,577.9 1036.5,580.0 1044.5,583.3 1052.5,588.6 1060.5,595.1 1068.5,600.9 1076.5,609.1 1084.5,615.1 1092.5,619.4 1100.5,622.7 1108.5,625.5 1116.5,628.0" fill="none" stroke="#ff0000" stroke-width="1" stroke-dasharray="3,3"/>
</g><g clip-path="url(#crsi)">
<line x1="5" y1="708.5" x2="1419" y2="708.5" stroke="#c0c0c0" stroke-width="1" stroke-dasharray="4,2"/>
<line x1="5" y1="759.5" x2="1419" y2="759.5" stroke="#c0c0c0" stroke-width="1" stroke-dasharray="4,2"/>
<polyline points="4.5,728.7 12.5,731.5 20.5,735.6 28.5,742.7 36.5,746.6 44.5,748.8 52.5,748.8 60.5,753.7 68.5,743.0 76.5,752.1 84.5,746.0 92.5,746.0 100.5,746.0 108.5,742.7 116.5,738.1 124.5,736.1 132.5,738.1 140.5,738.1 148.5,737.0 156.5,732.4 164.5,725.8 172.5,729.1 180.5,730.7 188.5,734.8 196.5,730.7 204.5,739.7 212.5,744.7 220.5,743.8 228.5,759.8 236.5,749.9 244.5,752.1 252.5,746.3 260.5,740.5 268.5,732.9 276.5,737.0 284.5,734.0 292.5,734.0 300.5,731.2 308.5,727.9 316.5,717.1 324.5,727.4 332.5,739.7 340.5,739.7 348.5,735.6 356.5,742.2 364.5,744.7 372.5,748.0 380.5,749.9 388.5,748.0 396.5,750.9 404.5,750.9 412.5,742.2 420.5,744.7 428.5,746.0 436.5,746.0 444.5,736.8 452.5,734.5 460.5,733.0 468.5,735.6 476.5,729.1 484.5,727.9 492.5,726.6 500.5,731.5 508.5,729.9 516.5,743.8 524.5,740.5 532.5,736.8 540.5,743.8 548.5,754.5 556.5,757.0 564.5,752.1 572.5,752.9 580.5,743.0 588.5,738.1 596.5,740.5 604.5,744.7 612.5,741.1 620.5,742.2 628.5,738.1 636.5,741.1 644.5,738.9 652.5,734.5 660.5,730.7 668.5,729.9 676.5,730.7 684.5,738.1 692.5,736.9 700.5,744.2 708.5,748.0 716.5,746.0 724.5,746.0 732.5,746.0 740.5,748.0 748.5,738.1 756.5,730.7 764.5,731.9 772.5,735.1 780.5,739.7 788.5,749.6 796.5,752.1 804.5,737.8 812.5,737.8 820.5,720.9 828.5,719.7 836.5,726.6 844.5,718.4 852.5,709.9 860.5,714.8 868.5,714.8 876.5,713.8 884.5,722.5 892.5,725.8 900.5,739.7 908.5,738.9 916.5,737.3 924.5,741.7 932.5,733.5 940.5,725.8 948.5,715.1 956.5,712.7 964.5,711.8 972.5,718.7 980.5,717.6 988.5,717.6 996.5,716.8 1004.5,721.7 1012.5,737.0 1020.5,735.6 1028.5,735.6 1036.5,737.3 1044.5,748.0 1052.5,747.1 1060.5,748.8 1068.5,749.9 1076.5,738.1 1084.5,738.9 1092.5,734.8 1100.5,734.8 1108.5,736.8 1116.5,738.1" fill="none" stroke="#1e90ff" stroke-width="1"/>
</g>
<rect x="3.5" y="22.5" width="1416" height="539" fill="none" stroke="#000" stroke-width="1"/>
<rect x="3.5" y="563.5" width="1416" height="103" fill="none" stroke="#000" stroke-width="1"/>
<rect x="3.5" y="668.5" width="1416" height="130" fill="none" stroke="#000" stroke-width="1"/>
<rect x="1420" y="30" width="2" height="1" fill="#000"/>
<rect x="1420" y="63" width="2" height="1" fill="#000"/>
<rect x="1420" y="96" width="2" height="1" fill="#000"/>
<rect x="1420" y="129" width="2" height="1" fill="#000"/>
<rect x="1420" y="162" width="2" height="1" fill="#000"/>
<rect x="1420" y="195" width="2" height="1" fill="#000"/>
<rect x="1420" y="228" width="2" height="1" fill="#000"/>
<rect x="1420" y="261" width="2" height="1" fill="#000"/>
<rect x="1420" y="294" width="2" height="1" fill="#000"/>
<rect x="1420" y="327" width="2" height="1" fill="#000"/>
<rect x="1420" y="360" width="2" height="1" fill="#000"/>
<rect x="1420" y="393" width="2" height="1" fill="#000"/>
<rect x="1420" y="426" width="2" height="1" fill="#000"/>
<rect x="1420" y="459" width="2" height="1" fill="#000"/>
<rect x="1420" y="492" width="2" height="1" fill="#000"/>
<rect x="1420" y="525" width="2" height="1" fill="#000"/>
<rect x="1420" y="558" width="2" height="1" fill="#000"/>
<rect x="4" y="799" width="1" height="3" fill="#000"/>
<rect x="68" y="799" width="1" height="3" fill="#000"/>
<rect x="132" y="799" width="1" height="3" fill="#000"/>
<rect x="196" y="799" width="1" height="3" fill="#000"/>
<rect x="260" y="799" width="1" height="3" fill="#000"/>
<rect x="324" y="799" width="1" height="3" fill="#000"/>
<rect x="388" y="799" width="1" height="3" fill="#000"/>
<rect x="452" y="799" width="1" height="3" fill="#000"/>
<rect x="516" y="799" width="1" height="3" fill="#000"/>
<rect x="580" y="799" width="1" height="3" fill="#000"/>
<rect x="644" y="799" width="1" height="3" fill="#000"/>
<rect x="708" y="799" width="1" height="3" fill="#000"/>
<rect x="772" y="799" width="1" height="3" fill="#000"/>
<rect x="836" y="799" width="1" height="3" fill="#000"/>
<rect x="900" y="799" width="1" height="3" fill="#000"/>
<rect x="964" y="799" width="1" height="3" fill="#000"/>
<rect x="1028" y="799" width="1" height="3" fill="#000"/>
<rect x="1092" y="799" width="1" height="3" fill="#000"/>
<polygon points="1130,23 1139,23 1134.5,28" fill="#c0c0c0"/>
<rect x="1420" y="565" width="2" height="1" fill="#000"/>
<rect x="1420" y="620" width="2" height="1" fill="#000"/>
<rect x="1420" y="665" width="2" height="1" fill="#000"/>
<rect x="1420" y="670" width="2" height="1" fill="#000"/>
<rect x="1420" y="708" width="2" height="1" fill="#000"/>
<rect x="1420" y="759" width="2" height="1" fill="#000"/>
<rect x="1420" y="797" width="2" height="1" fill="#000"/>
</svg>
<!-- current price label -->
<div class="abs" style="left:1421px;top:333px;width:41px;height:11px;background:#000"></div>
<div class="t" style="left:1424.72px;top:333.32px;font-size:9.78px;line-height:9.78px;color:#fff;transform:scaleX(0.93);transform-origin:0 0;">1.12555</div>
<!-- triangle in title -->
<svg class="abs" style="left:7px;top:29px" width="8" height="4"><polygon points="0,4 7,4 3.5,0" fill="#000"/></svg>
<div class="t" style="left:1424.72px;top:25.22px;font-size:9.78px;line-height:9.78px;color:#000;transform:scaleX(0.93);transform-origin:0 0;">1.14735</div><div class="t" style="left:1424.72px;top:58.22px;font-size:9.78px;line-height:9.78px;color:#000;transform:scaleX(0.93);transform-origin:0 0;">1.14500</div><div class="t" style="left:1424.72px;top:91.22px;font-size:9.78px;line-height:9.78px;color:#000;transform:scaleX(0.93);transform-origin:0 0;">1.14265</div><div class="t" style="left:1424.72px;top:124.22px;font-size:9.78px;line-height:9.78px;color:#000;transform:scaleX(0.93);transform-origin:0 0;">1.14030</div><div class="t" style="left:1424.72px;top:157.22px;font-size:9.78px;line-height:9.78px;color:#000;transform:scaleX(0.93);transform-origin:0 0;">1.13800</div><div class="t" style="left:1424.72px;top:190.22px;font-size:9.78px;line-height:9.78px;color:#000;transform:scaleX(0.93);transform-origin:0 0;">1.13565</div><div class="t" style="left:1424.72px;top:223.22px;font-size:9.78px;line-height:9.78px;color:#000;transform:scaleX(0.93);transform-origin:0 0;">1.13330</div><div class="t" style="left:1424.72px;top:256.22px;font-size:9.78px;line-height:9.78px;color:#000;transform:scaleX(0.93);transform-origin:0 0;">1.13100</div><div class="t" style="left:1424.72px;top:289.22px;font-size:9.78px;line-height:9.78px;color:#000;transform:scaleX(0.93);transform-origin:0 0;">1.12865</div><div class="t" style="left:1424.72px;top:322.22px;font-size:9.78px;line-height:9.78px;color:#000;transform:scaleX(0.93);transform-origin:0 0;">1.12630</div><div class="t" style="left:1424.72px;top:355.22px;font-size:9.78px;line-height:9.78px;color:#000;transform:scaleX(0.93);transform-origin:0 0;">1.12400</div><div class="t" style="left:1424.72px;top:388.22px;font-size:9.78px;line-height:9.78px;color:#000;transform:scaleX(0.93);transform-origin:0 0;">1.12165</div><div class="t" style="left:1424.72px;top:421.22px;font-size:9.78px;line-height:9.78px;color:#000;transform:scaleX(0.93);transform-origin:0 0;">1.11930</div><div class="t" style="left:1424.72px;top:454.22px;font-size:9.78px;line-height:9.78px;color:#000;transform:scaleX(0.93);transform-origin:0 0;">1.11695</div><div class="t" style="left:1424.72px;top:487.22px;font-size:9.78px;line-height:9.78px;color:#000;transform:scaleX(0.93);transform-origin:0 0;">1.11465</div><div class="t" style="left:1424.72px;top:520.22px;font-size:9.78px;line-height:9.78px;color:#000;transform:scaleX(0.93);transform-origin:0 0;">1.11230</div><div class="t" style="left:1424.72px;top:553.22px;font-size:9.78px;line-height:9.78px;color:#000;transform:scaleX(0.93);transform-origin:0 0;">1.10995</div><div class="t" style="left:2.81px;top:801.92px;font-size:9.78px;line-height:9.78px;color:#000;transform:scaleX(0.945);transform-origin:0 0;">3 Feb 2019</div><div class="t" style="left:66.81px;top:801.92px;font-size:9.78px;line-height:9.78px;color:#000;transform:scaleX(0.945);transform-origin:0 0;">12 Feb 2019</div><div class="t" style="left:130.81px;top:801.92px;font-size:9.78px;line-height:9.78px;color:#000;transform:scaleX(0.945);transform-origin:0 0;">21 Feb 2019</div><div class="t" style="left:194.81px;top:801.92px;font-size:9.78px;line-height:9.78px;color:#000;transform:scaleX(0.945);transform-origin:0 0;">3 Mar 2019</div><div class="t" style="left:258.81px;top:801.92px;font-size:9.78px;line-height:9.78px;color:#000;transform:scaleX(0.945);transform-origin:0 0;">12 Mar 2019</div><div class="t" style="left:322.81px;top:801.92px;font-size:9.78px;line-height:9.78px;color:#000;transform:scaleX(0.945);transform-origin:0 0;">21 Mar 2019</div><div class="t" style="left:386.81px;top:801.92px;font-size:9.78px;line-height:9.78px;color:#000;transform:scaleX(0.945);transform-origin:0 0;">31 Mar 2019</div><div class="t" style="left:450.81px;top:801.92px;font-size:9.78px;line-height:9.78px;color:#000;transform:scaleX(0.945);transform-origin:0 0;">9 Apr 2019</div><div class="t" style="left:514.81px;top:801.92px;font-size:9.78px;line-height:9.78px;color:#000;transform:scaleX(0.945);transform-origin:0 0;">18 Apr 2019</div><div class="t" style="left:578.81px;top:801.92px;font-size:9.78px;line-height:9.78px;color:#000;transform:scaleX(0.945);transform-origin:0 0;">29 Apr 2019</div><div class="t" style="left:642.81px;top:801.92px;font-size:9.78px;line-height:9.78px;color:#000;transform:scaleX(0.945);transform-origin:0 0;">8 May 2019</div><div class="t" style="left:706.81px;top:801.92px;font-size:9.78px;line-height:9.78px;color:#000;transform:scaleX(0.945);transform-origin:0 0;">17 May 2019</div><div class="t" style="left:770.81px;top:801.92px;font-size:9.78px;line-height:9.78px;color:#000;transform:scaleX(0.945);transform-origin:0 0;">27 May 2019</div><div class="t" style="left:834.81px;top:801.92px;font-size:9.78px;line-height:9.78px;color:#000;transform:scaleX(0.945);transform-origin:0 0;">5 Jun 2019</div><div class="t" style="left:898.81px;top:801.92px;font-size:9.78px;line-height:9.78px;color:#000;transform:scaleX(0.945);transform-origin:0 0;">14 Jun 2019</div><div class="t" style="left:962.81px;top:801.92px;font-size:9.78px;line-height:9.78px;color:#000;transform:scaleX(0.945);transform-origin:0 0;">24 Jun 2019</div><div class="t" style="left:1026.81px;top:801.92px;font-size:9.78px;line-height:9.78px;color:#000;transform:scaleX(0.945);transform-origin:0 0;">3 Jul 2019</div><div class="t" style="left:1090.81px;top:801.92px;font-size:9.78px;line-height:9.78px;color:#000;transform:scaleX(0.945);transform-origin:0 0;">12 Jul 2019</div><div class="t" style="left:1422.53px;top:565.77px;font-size:9.78px;line-height:9.78px;color:#000;transform:scaleX(0.91);transform-origin:0 0;">0.004465</div><div class="t" style="left:1422.50px;top:615.97px;font-size:9.78px;line-height:9.78px;color:#000;transform:scaleX(0.956);transform-origin:0 0;">0.00</div><div class="t" style="left:1422.53px;top:655.42px;font-size:9.78px;line-height:9.78px;color:#000;transform:scaleX(0.91);transform-origin:0 0;">-0.003715</div><div class="t" style="left:1422.50px;top:671.07px;font-size:9.78px;line-height:9.78px;color:#000;transform:scaleX(0.956);transform-origin:0 0;">100</div><div class="t" style="left:1422.50px;top:704.17px;font-size:9.78px;line-height:9.78px;color:#000;transform:scaleX(0.956);transform-origin:0 0;">70</div><div class="t" style="left:1421.80px;top:754.67px;font-size:9.78px;line-height:9.78px;color:#000;transform:scaleX(0.956);transform-origin:0 0;">30</div><div class="t" style="left:1422.30px;top:786.67px;font-size:9.78px;line-height:9.78px;color:#000;transform:scaleX(0.956);transform-origin:0 0;">0</div><div class="t" style="left:7.80px;top:568.24px;font-size:10.47px;line-height:10.47px;color:#000;transform:scaleX(0.893);transform-origin:0 0;">MACD(12,26,9) -0.000738 -0.000684</div><div class="t" style="left:7.89px;top:673.14px;font-size:10.47px;line-height:10.47px;color:#000;transform:scaleX(0.9);transform-origin:0 0;">RSI(14) 47.1989</div><div class="t" style="left:18.69px;top:26.05px;font-size:10.34px;line-height:10.34px;color:#000;transform:scaleX(0.921);transform-origin:0 0;">EURUSD-,Daily</div><div class="t" style="left:92.01px;top:26.05px;font-size:10.34px;line-height:10.34px;color:#000;transform:scaleX(0.892);transform-origin:0 0;">1.12592 1.12623 1.12546 1.12555</div>
<!-- trade panel -->
<div class="abs" style="left:5px;top:42px;width:2px;height:64px;background:#fff"></div>
<div class="abs" style="left:7px;top:42px;width:52px;height:24px;background:linear-gradient(#5a5aff,#3c3cee);border:1px solid #1a1ab0;border-bottom:none"></div>
<div class="abs" style="left:11px;top:65px;width:45px;height:1px;background:#1a1a90"></div>
<div class="abs" style="left:11px;top:66px;width:45px;height:1px;background:#9090ff"></div>
<div class="abs" style="left:7px;top:66px;width:109px;height:40px;background:linear-gradient(#3535e0,#0000b0);border:1px solid #10109a;border-top:none"></div>
<div class="abs" style="left:174px;top:42px;width:52px;height:24px;background:linear-gradient(#5a5aff,#3c3cee);border:1px solid #1a1ab0;border-bottom:none"></div>
<div class="abs" style="left:178px;top:65px;width:45px;height:1px;background:#1a1a90"></div>
<div class="abs" style="left:178px;top:66px;width:45px;height:1px;background:#9090ff"></div>
<div class="abs" style="left:118px;top:66px;width:108px;height:40px;background:linear-gradient(#3535e0,#0000b0);border:1px solid #10109a;border-top:none"></div>
<div class="t" style="left:19.01px;top:48.23px;font-size:11.31px;line-height:11.31px;color:#e8e8ff;transform:scaleX(0.935);transform-origin:0 0;">SELL</div>
<div class="t" style="left:186.95px;top:47.78px;font-size:11.4px;line-height:11.4px;color:#e8e8ff;">BUY</div>
<!-- lot box -->
<div class="abs" style="left:61px;top:42px;width:111px;height:22px;background:#fff;border:1px solid #a8aab0"></div>
<div class="abs" style="left:62px;top:43px;width:21px;height:20px;background:linear-gradient(#f2f2f2 0%,#ebebeb 40%,#d8d8d8 41%,#d2d2d2 100%);border-right:1px solid #a8aab0;box-shadow:inset 0 0 0 1px #fff"></div>
<div class="abs" style="left:150px;top:43px;width:21px;height:20px;background:linear-gradient(#f2f2f2 0%,#ebebeb 40%,#d8d8d8 41%,#d2d2d2 100%);border-left:1px solid #a8aab0;box-shadow:inset 0 0 0 1px #fff"></div>
<svg class="abs" style="left:69px;top:51px" width="6" height="3"><polygon points="0,0 5,0 2.5,3" fill="#5a6cc0"/></svg>
<svg class="abs" style="left:158px;top:51px" width="6" height="3"><polygon points="0,3 5,3 2.5,0" fill="#5a6cc0"/></svg>
<div class="t" style="left:122.70px;top:46.70px;font-size:12.29px;line-height:12.29px;color:#000;transform:scaleX(0.974);transform-origin:0 0;">1.00</div>
<div class="t" style="left:26.98px;top:87.09px;font-size:12.2px;line-height:12.2px;color:#fff;font-weight:bold;">1.12</div>
<div class="t" style="left:55.37px;top:68.06px;font-size:33.24px;line-height:33.24px;color:#fff;transform:scaleX(0.895);transform-origin:0 0;">55</div>
<div class="t" style="left:93.58px;top:70.97px;font-size:11.73px;line-height:11.73px;color:#fff;font-weight:bold;transform:scaleX(1.05);transform-origin:0 0;">5</div>
<div class="t" style="left:136.99px;top:87.09px;font-size:12.2px;line-height:12.2px;color:#fff;font-weight:bold;">1.12</div>
<div class="t" style="left:165.91px;top:68.06px;font-size:33.24px;line-height:33.24px;color:#fff;transform:scaleX(0.92);transform-origin:0 0;">57</div>
<div class="t" style="left:204.98px;top:70.97px;font-size:11.73px;line-height:11.73px;color:#fff;font-weight:bold;transform:scaleX(1.05);transform-origin:0 0;">3</div>
<!-- bottom tabs -->
<div class="abs" style="left:1px;top:819px;width:1461px;height:1px;background:#e0e0e0"></div>
<div class="abs" style="left:0;top:821px;width:1462px;height:1px;background:#000"></div>
<div class="abs" style="left:5px;top:821px;width:108px;height:19px;background:#fff;border:1px solid #000;border-top:none"></div>
<div class="t" style="left:15.35px;top:826.61px;font-size:11.45px;line-height:11.45px;color:#000;transform:scaleX(1.052);transform-origin:0 0;">EURUSD-,Daily</div>
<div class="t" style="left:123.00px;top:826.61px;font-size:11.45px;line-height:11.45px;color:#7c7c7c;transform:scaleX(1.074);transform-origin:0 0;">AUDUSD-,Daily</div><div class="abs" style="left:221px;top:824px;width:1px;height:13px;background:#808080"></div><div class="t" style="left:232.14px;top:826.61px;font-size:11.45px;line-height:11.45px;color:#7c7c7c;transform:scaleX(1.061);transform-origin:0 0;">USDCHF-,Daily</div><div class="abs" style="left:329px;top:824px;width:1px;height:13px;background:#808080"></div><div class="t" style="left:339.43px;top:826.61px;font-size:11.45px;line-height:11.45px;color:#7c7c7c;transform:scaleX(1.071);transform-origin:0 0;">USDCAD-,Daily</div><div class="abs" style="left:437px;top:824px;width:1px;height:13px;background:#808080"></div><div class="t" style="left:448.31px;top:826.61px;font-size:11.45px;line-height:11.45px;color:#7c7c7c;transform:scaleX(1.092);transform-origin:0 0;">USDCNH-,Daily</div><div class="abs" style="left:550px;top:824px;width:1px;height:13px;background:#808080"></div><div class="t" style="left:559.44px;top:826.61px;font-size:11.45px;line-height:11.45px;color:#7c7c7c;transform:scaleX(1.056);transform-origin:0 0;">EURCHF-,Weekly</div><div class="abs" style="left:670px;top:824px;width:1px;height:13px;background:#808080"></div><div class="t" style="left:681.30px;top:826.61px;font-size:11.45px;line-height:11.45px;color:#7c7c7c;transform:scaleX(1.079);transform-origin:0 0;">XAUUSD-,M15</div><div class="abs" style="left:777px;top:824px;width:1px;height:13px;background:#808080"></div><div class="t" style="left:789.00px;top:826.61px;font-size:11.45px;line-height:11.45px;color:#7c7c7c;transform:scaleX(1.029);transform-origin:0 0;">GBPUSD-,H1</div><div class="abs" style="left:873px;top:824px;width:1px;height:13px;background:#808080"></div><div class="t" style="left:883.58px;top:826.61px;font-size:11.45px;line-height:11.45px;color:#7c7c7c;transform:scaleX(1.116);transform-origin:0 0;">UKOil-,H1</div><div class="abs" style="left:953px;top:824px;width:1px;height:13px;background:#808080"></div><svg class="abs" style="left:0;top:0" width="1462" height="841"><polygon points="1438.5,826.5 1438.5,833.5 1434.5,830" fill="#a0a0a0"/><polygon points="1453.5,826.5 1453.5,833.5 1457.5,830" fill="#a0a0a0"/></svg></div></body></html>
